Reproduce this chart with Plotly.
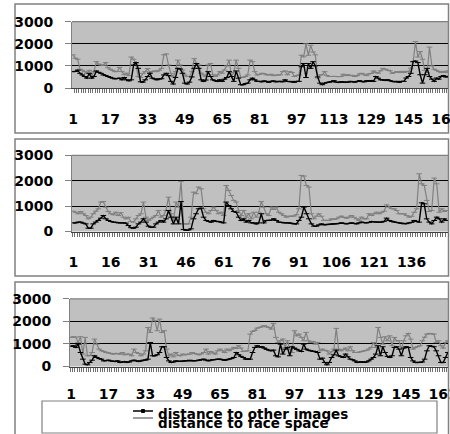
import plotly.graph_objects as go

# ---------------- data ----------------
p1_face = [1500,1350,1300,850,800,740,660,800,560,740,
 1190,1080,1040,1030,1150,920,850,800,740,750,
 930,740,600,670,560,1400,1300,1100,520,480,
 660,740,880,710,740,770,740,800,890,1500,
 1540,1040,660,520,740,1260,1040,810,590,520,
 520,740,1330,1110,1040,670,590,520,1040,1110,
 600,520,590,740,670,810,1000,1260,520,700,
 1260,890,480,480,520,590,1260,1190,740,590,
 620,665,650,600,590,620,560,580,590,600,
 740,770,600,740,700,520,560,590,1480,1410,
 2000,1480,1930,1630,1500,450,590,600,740,560,
 520,520,530,520,510,520,620,560,600,560,
 570,520,560,640,665,600,560,640,660,770,
 700,665,780,890,850,810,780,665,700,740,
 700,750,700,750,740,900,1200,2100,1400,1650,
 1300,800,700,1850,1000,850,800,750,700,750,
 700,780]
p1_other = [740,750,810,665,590,520,445,665,445,520,
 770,710,665,590,560,520,480,445,415,430,
 445,370,475,370,325,370,1040,1150,890,280,
 265,370,520,665,445,415,370,415,420,590,
 665,560,300,180,475,890,860,665,220,180,
 265,500,890,1110,890,370,300,360,740,520,
 370,330,300,370,300,400,475,740,520,300,
 770,445,150,150,200,220,370,445,370,300,
 300,280,320,300,260,300,320,280,300,300,
 280,370,300,290,300,260,300,300,960,1110,
 475,1110,890,1190,1000,500,220,150,220,250,
 265,280,330,265,250,280,265,250,265,300,
 280,265,300,330,290,280,330,300,340,300,
 520,445,370,370,340,370,330,300,280,300,
 260,300,300,450,520,665,1190,1220,1150,600,
 220,600,890,520,400,300,450,400,520,560,
 500,520]

p2_face = [800,760,700,790,700,630,500,565,700,800,
 895,1160,1180,960,790,700,660,760,630,740,
 565,500,560,395,370,500,630,700,1160,
 565,435,500,565,630,830,565,630,830,1355,
 700,435,1160,960,1975,300,300,300,565,1550,
 1490,1750,1680,895,760,700,830,960,830,700,
 760,630,1815,1620,1420,1225,1160,830,630,830,
 565,700,500,760,565,760,1180,960,700,
 630,960,870,960,760,700,630,565,600,605,
 605,660,895,2210,2185,1815,1750,700,500,605,
 700,600,435,435,435,500,480,500,565,
 605,560,525,565,630,560,500,435,565,500,
 500,700,630,700,760,700,760,800,1050,960,
 900,895,830,700,700,700,630,565,600,760,
 895,2275,1880,1815,1225,790,830,2105,1880,760,
 895,790,830]
p2_other = [340,340,370,370,330,300,130,130,300,370,
 435,525,630,500,435,395,370,360,340,340,
 340,330,235,150,130,170,300,370,500,
 370,210,170,170,300,370,435,370,500,830,
 565,300,565,300,1180,80,50,60,105,500,
 700,895,920,565,435,400,370,435,395,395,
 370,340,1160,1025,895,790,760,565,435,500,
 370,435,340,340,300,340,700,340,435,
 435,450,500,435,370,360,340,340,340,320,
 300,300,435,565,960,700,500,300,210,210,
 260,300,265,270,280,290,300,300,320,
 340,320,300,320,340,320,300,340,370,350,
 340,360,395,380,370,370,370,400,525,435,
 400,370,360,340,320,300,310,340,360,435,
 400,370,1130,1090,500,370,300,435,565,500,
 370,500,435]

p3_face = [1290,1320,1300,1065,1320,550,1290,475,490,620,
 1215,990,770,700,665,620,600,580,550,580,
 570,550,620,520,550,540,475,770,620,580,
 475,550,695,1730,1510,2150,2030,1585,2100,1510,
 1585,770,475,550,430,620,500,475,550,520,
 540,550,620,580,550,520,560,620,770,550,
 665,600,550,695,770,700,620,770,700,770,
 845,800,920,815,665,680,695,1435,1555,1600,
 1700,1730,1760,1810,1760,1730,1660,1910,1290,1065,
 1140,1215,845,1140,770,620,1585,1360,1435,1290,
 1140,1510,1140,1065,1110,990,1065,695,770,720,
 695,550,650,770,1690,770,695,750,815,695,
 875,700,620,620,640,665,695,720,770,845,
 1065,845,1730,1290,990,1320,1140,1360,920,1290,
 1140,1140,770,1140,1360,1465,1215,770,845,880,
 920,1140,1300,1435,1465,1450,1435,1065,1140,920,
 815,1065,1140,1100]
p3_other = [900,920,845,990,620,325,105,75,180,280,
 475,400,350,325,250,260,280,250,230,220,
 250,180,200,220,180,200,250,280,250,220,
 250,280,280,325,1065,475,475,520,620,875,
 875,400,250,180,200,250,230,220,240,250,
 260,280,260,250,260,280,300,325,280,250,
 280,300,310,320,325,300,280,300,325,350,
 400,620,520,450,400,325,330,325,620,845,
 920,860,875,815,760,725,695,725,475,430,
 990,550,770,845,475,875,815,760,695,665,
 990,770,725,695,680,665,620,325,370,180,
 75,180,400,520,725,475,440,400,550,430,
 325,300,250,180,200,205,180,200,250,325,
 400,550,920,475,875,620,450,400,475,845,
 875,770,475,815,875,845,400,250,180,180,
 180,200,325,695,920,900,875,695,475,180,
 180,400,620,600]

y_ticks = [0, 1000, 2000, 3000]
legend_names = ["distance to other images", "distance to face space"]

# ---------------- layout helpers ----------------
W, H = 450, 434
def px(x): return x / W
def py(y): return 1 - y / H

panels = [
    dict(face=p1_face, other=p1_other, l=72, r=448, t=21.7, b=88.0,
         rng=[0.571, 161.94], step=16, standoff=14),
    dict(face=p2_face, other=p2_other, l=72, r=448, t=155.4, b=231.5,
         rng=[0.5, 150.5], step=15, standoff=14),
    dict(face=p3_face, other=p3_other, l=70, r=448, t=298.8, b=366.5,
         rng=[0.484, 163.06], step=16, standoff=11),
]
boxes = [(15, 4, 448.5, 133), (15, 139, 448.5, 276), (15, 282, 448.5, 445)]

FONT = "DejaVu Sans"
fig = go.Figure()
layout = dict(width=W, height=H,
              margin=dict(l=0, r=0, t=0, b=0, pad=0, autoexpand=False),
              paper_bgcolor="white", plot_bgcolor="#C0C0C0", showlegend=False)
shapes = []
for (x0, y0, x1, y1) in boxes:
    shapes.append(dict(type="rect", xref="paper", yref="paper", x0=px(x0), x1=px(x1),
                       y0=py(y1), y1=py(y0), line=dict(color="#808080", width=1.5),
                       fillcolor="rgba(0,0,0,0)", layer="below"))

for k, p in enumerate(panels):
    n = k + 1
    xa = "x" if n == 1 else f"x{n}"
    ya = "y" if n == 1 else f"y{n}"
    fig.add_trace(go.Scatter(x=list(range(1, len(p["face"]) + 1)), y=p["face"],
                             mode="lines+markers", xaxis=xa, yaxis=ya,
                             name=legend_names[1], line=dict(color="#808080", width=1.2),
                             marker=dict(symbol="line-ew-open", size=4, color="#808080",
                                         line=dict(color="#808080", width=1))))
    fig.add_trace(go.Scatter(x=list(range(1, len(p["other"]) + 1)), y=p["other"],
                             mode="lines+markers", xaxis=xa, yaxis=ya,
                             name=legend_names[0], line=dict(color="#000000", width=1.4),
                             marker=dict(symbol="line-ew-open", size=4, color="#000000",
                                         line=dict(color="#000000", width=1))))
    xkey = "xaxis" if n == 1 else f"xaxis{n}"
    ykey = "yaxis" if n == 1 else f"yaxis{n}"
    layout[xkey] = dict(domain=[px(p["l"]), px(p["r"])], anchor=ya, range=p["rng"],
                        automargin=False, ticklabeloverflow="allow",
                        tickmode="linear", tick0=1, dtick=p["step"],
                        ticks="outside", ticklen=4, tickcolor="rgba(0,0,0,0)",
                        ticklabelstandoff=p["standoff"],
                        minor=dict(tick0=0.5, dtick=1, ticks="outside", ticklen=4,
                                   tickcolor="#707070", tickwidth=1, showgrid=False),
                        showgrid=False, zeroline=False, showline=True,
                        linecolor="#404040", linewidth=1,
                        tickfont=dict(family=FONT, size=14, color="black", weight="bold"))
    layout[ykey] = dict(domain=[py(p["b"]), py(p["t"])], anchor=xa, range=[0, 3000],
                        automargin=False,
                        tickmode="array", tickvals=y_ticks,
                        ticks="outside", ticklen=6, tickcolor="#808080",
                        ticklabelstandoff=9,
                        showgrid=True, gridcolor="#000000", gridwidth=1,
                        zeroline=False, showline=True, linecolor="#808080", linewidth=1,
                        tickfont=dict(family=FONT, size=14, color="black", weight="bold"))
    shapes.append(dict(type="line", xref=f"{xa} domain", yref=f"{ya} domain",
                       x0=0, x1=1, y0=1, y1=1, line=dict(color="#808080", width=1.2),
                       layer="above"))

# legend box
shapes.append(dict(type="rect", xref="paper", yref="paper", x0=px(42), x1=px(437),
                   y0=py(433), y1=py(401), line=dict(color="#808080", width=1.2),
                   fillcolor="white", layer="above"))
shapes.append(dict(type="line", xref="paper", yref="paper", x0=px(133), x1=px(153),
                   y0=py(411), y1=py(411), line=dict(color="black", width=1.5), layer="above"))
shapes.append(dict(type="rect", xref="paper", yref="paper", x0=px(141.5), x1=px(144.5),
                   y0=py(412.5), y1=py(409.5), line=dict(color="black", width=1),
                   fillcolor="black", layer="above"))
shapes.append(dict(type="line", xref="paper", yref="paper", x0=px(133), x1=px(153),
                   y0=py(418), y1=py(418), line=dict(color="#808080", width=1.5), layer="above"))
layout["shapes"] = shapes
layout["annotations"] = [
    dict(text=legend_names[0], xref="paper", yref="paper", x=px(156), y=py(413.5),
         xanchor="left", yanchor="middle", showarrow=False,
         font=dict(family=FONT, size=13.5, color="black", weight="bold")),
    dict(text=legend_names[1], xref="paper", yref="paper", x=px(156), y=py(422.5),
         xanchor="left", yanchor="middle", showarrow=False,
         font=dict(family=FONT, size=13.5, color="black", weight="bold")),
]
fig.update_layout(**layout)
fig.write_html("out.html", config={"displayModeBar": False},
               post_script="document.body.style.margin='0px';document.body.style.overflow='hidden';")
